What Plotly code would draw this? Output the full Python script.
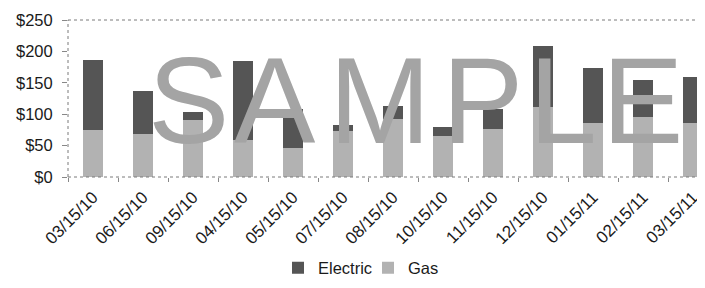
import plotly.graph_objects as go

dates = ["03/15/10", "06/15/10", "09/15/10", "04/15/10", "05/15/10", "07/15/10",
         "08/15/10", "10/15/10", "11/15/10", "12/15/10", "01/15/11", "02/15/11", "03/15/11"]
gas = [75, 68, 91, 59, 46, 74, 92, 66, 77, 112, 86, 95, 86]
electric = [112, 69, 13, 126, 63, 9, 21, 13, 32, 97, 87, 60, 73]
y_ticks = [0, 50, 100, 150, 200, 250]
y_labels = ["$0", "$50", "$100", "$150", "$200", "$250"]
watermark = ["S", "A", "M", "P", "L", "E"]

# the page has an 8px body margin; compensate so the figure lands at the right place
OFF = 8
W, H = 705 - OFF, 288 - OFF
PL, PT, PR, PB = 68, 20, 705, 177          # plot area in page pixels
L, T = PL - OFF, PT - OFF
R = (OFF + W) - PR
B = (OFF + H) - PB
PW, PH = PR - PL, PB - PT

def px_x(p):
    return (p - PL) / PW

def px_y(p):
    return (PB - p) / PH

GAS_C = "#b2b2b2"
ELEC_C = "#555555"
WM_C = "#a4a4a4"
FONT = "Liberation Sans, Arial, sans-serif"

fig = go.Figure()
fig.add_trace(go.Bar(x=dates, y=gas, name="Gas", marker=dict(color=GAS_C, line=dict(width=0))))
fig.add_trace(go.Bar(x=dates, y=electric, name="Electric", marker=dict(color=ELEC_C, line=dict(width=0))))

wm_centers = [188, 275, 380, 482, 563, 642]
annotations = []
for ch, cx in zip(watermark, wm_centers):
    annotations.append(dict(text=ch, x=px_x(cx), y=px_y(101), xref="paper", yref="paper",
                            xanchor="center", yanchor="middle", showarrow=False,
                            font=dict(family=FONT, size=122, color=WM_C)))

line_c = "#7a7a7a"
shapes = [
    dict(type="line", xref="paper", yref="paper", x0=0, x1=1, y0=1, y1=1,
         line=dict(color=line_c, width=1, dash="dot")),
    dict(type="line", xref="paper", yref="paper", x0=0, x1=1, y0=0, y1=0,
         line=dict(color=line_c, width=1, dash="dot")),
    dict(type="line", xref="paper", yref="paper", x0=0, x1=0, y0=0, y1=1,
         line=dict(color=line_c, width=1, dash="dot")),
]

fig.update_layout(
    width=W, height=H,
    margin=dict(l=L, r=R, t=T, b=B, autoexpand=False),
    barmode="stack", bargap=0.6,
    plot_bgcolor="white", paper_bgcolor="white",
    font=dict(family=FONT, color="#1a1a1a"),
    showlegend=True,
    legend=dict(orientation="h", x=px_x(278), xanchor="left", y=px_y(268), yanchor="middle",
                traceorder="reversed", font=dict(size=16.5), entrywidth=45,
                entrywidthmode="pixels", bgcolor="rgba(0,0,0,0)"),
    annotations=annotations,
    shapes=shapes,
    xaxis=dict(type="category", range=[-0.5, 12.24], tickangle=-45,
               tickfont=dict(size=17), ticks="outside", ticklen=4, tickcolor="#888888",
               tickson="boundaries", ticklabelstandoff=6, showgrid=False, showline=False,
               zeroline=False, automargin=False, fixedrange=True),
    yaxis=dict(range=[0, 250], tickvals=y_ticks, ticktext=y_labels, tickfont=dict(size=16.5),
               ticks="outside", ticklen=5, tickcolor="#888888", ticklabelstandoff=6,
               showgrid=False, showline=False, zeroline=False, automargin=False,
               fixedrange=True),
)

fig.write_html("out.html")
